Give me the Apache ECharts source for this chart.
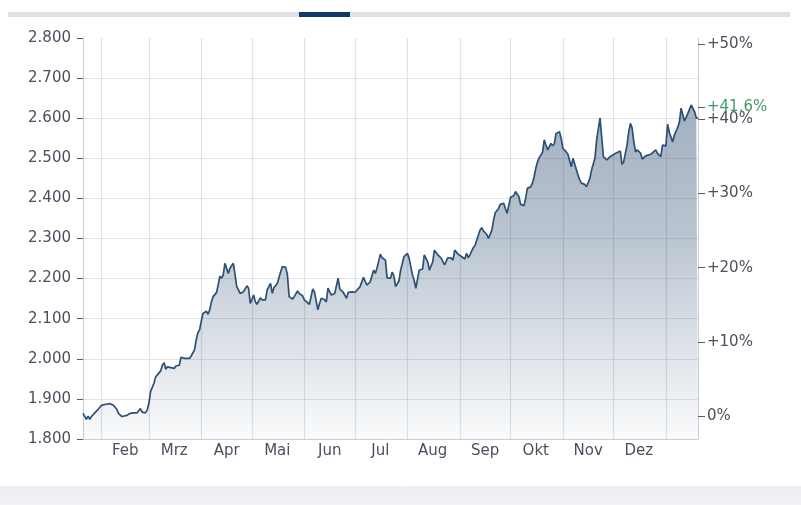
<!DOCTYPE html>
<html>
<head>
<meta charset="utf-8">
<script src="https://cdn.jsdelivr.net/npm/echarts@6.0.0/dist/echarts.min.js"></script>
<style>
  html, body { margin: 0; padding: 0; background: #fff; }
  #chart { width: 801px; height: 505px; }
</style>
</head>
<body>
<div id="chart"></div>
<script>
// Kurs, 1 Jahr
var dates = [
  "2013-01-21","2013-01-22","2013-01-23","2013-01-24","2013-01-25","2013-01-26","2013-01-28","2013-01-30",
  "2013-02-01","2013-02-03","2013-02-04","2013-02-06","2013-02-08","2013-02-10","2013-02-11","2013-02-13",
  "2013-02-14","2013-02-16","2013-02-18","2013-02-20","2013-02-22","2013-02-23","2013-02-24","2013-02-25",
  "2013-02-27","2013-02-28","2013-03-01","2013-03-02","2013-03-04","2013-03-05","2013-03-07","2013-03-08",
  "2013-03-09","2013-03-10","2013-03-11","2013-03-12","2013-03-14","2013-03-15","2013-03-16","2013-03-17",
  "2013-03-19","2013-03-20","2013-03-21","2013-03-22","2013-03-23","2013-03-25","2013-03-26","2013-03-28",
  "2013-03-29","2013-03-30","2013-03-31","2013-04-01","2013-04-02","2013-04-04","2013-04-05","2013-04-06",
  "2013-04-07","2013-04-08","2013-04-09","2013-04-10","2013-04-11","2013-04-12","2013-04-13","2013-04-14",
  "2013-04-15","2013-04-16","2013-04-17","2013-04-18","2013-04-20","2013-04-21","2013-04-22","2013-04-23",
  "2013-04-24","2013-04-26","2013-04-28","2013-04-29","2013-04-30","2013-05-02","2013-05-03","2013-05-04",
  "2013-05-06","2013-05-07","2013-05-09","2013-05-10","2013-05-12","2013-05-13","2013-05-14","2013-05-16",
  "2013-05-17","2013-05-18","2013-05-19","2013-05-21","2013-05-22","2013-05-23","2013-05-25","2013-05-26",
  "2013-05-28","2013-05-29","2013-05-31","2013-06-01","2013-06-02","2013-06-04","2013-06-05","2013-06-06",
  "2013-06-07","2013-06-09","2013-06-10","2013-06-11","2013-06-13","2013-06-14","2013-06-15","2013-06-17",
  "2013-06-18","2013-06-19","2013-06-21","2013-06-22","2013-06-23","2013-06-24","2013-06-26","2013-06-27",
  "2013-06-29","2013-07-01","2013-07-02","2013-07-04","2013-07-05","2013-07-06","2013-07-08","2013-07-09",
  "2013-07-10","2013-07-12","2013-07-13","2013-07-14","2013-07-16","2013-07-17","2013-07-19","2013-07-20",
  "2013-07-22","2013-07-23","2013-07-24","2013-07-25","2013-07-27","2013-07-28","2013-07-30","2013-08-01",
  "2013-08-02","2013-08-04","2013-08-05","2013-08-06","2013-08-08","2013-08-10","2013-08-11","2013-08-13",
  "2013-08-14","2013-08-16","2013-08-17","2013-08-19","2013-08-20","2013-08-21","2013-08-23","2013-08-24",
  "2013-08-25","2013-08-27","2013-08-28","2013-08-29","2013-08-31","2013-09-02","2013-09-03","2013-09-04",
  "2013-09-05","2013-09-06","2013-09-07","2013-09-09","2013-09-10","2013-09-11","2013-09-13","2013-09-14",
  "2013-09-15","2013-09-17","2013-09-18","2013-09-20","2013-09-21","2013-09-22","2013-09-24","2013-09-25",
  "2013-09-27","2013-09-28","2013-09-29","2013-10-01","2013-10-02","2013-10-03","2013-10-04","2013-10-06",
  "2013-10-07","2013-10-09","2013-10-10","2013-10-11","2013-10-13","2013-10-14","2013-10-15","2013-10-16",
  "2013-10-17","2013-10-18","2013-10-20","2013-10-21","2013-10-22","2013-10-23","2013-10-24","2013-10-25",
  "2013-10-26","2013-10-27","2013-10-28","2013-10-30","2013-10-31","2013-11-01","2013-11-02","2013-11-03",
  "2013-11-04","2013-11-06","2013-11-07","2013-11-08","2013-11-10","2013-11-11","2013-11-12","2013-11-14",
  "2013-11-15","2013-11-17","2013-11-18","2013-11-20","2013-11-21","2013-11-23","2013-11-24","2013-11-25",
  "2013-11-26","2013-11-27","2013-11-29","2013-11-30","2013-12-02","2013-12-03","2013-12-05","2013-12-06",
  "2013-12-07","2013-12-09","2013-12-10","2013-12-11","2013-12-12","2013-12-13","2013-12-14","2013-12-15",
  "2013-12-17","2013-12-18","2013-12-20","2013-12-21","2013-12-23","2013-12-24","2013-12-26","2013-12-27",
  "2013-12-29","2013-12-30","2014-01-01","2014-01-02","2014-01-03","2014-01-05","2014-01-06","2014-01-08",
  "2014-01-09","2014-01-10","2014-01-12","2014-01-13","2014-01-14","2014-01-16","2014-01-17","2014-01-18",
  "2014-01-19","2014-01-20"
];
var prices = [
  1864,1865,1849,1857,1849,1856,1865,1874,
  1884,1886,1884,1888,1884,1874,1864,1856,
  1852,1859,1864,1865,1865,1867,1876,1867,
  1865,1872,1889,1918,1939,1955,1965,1970,
  1984,1990,1974,1980,1978,1980,1976,1982,
  1984,2004,2007,2001,1999,2001,2007,2022,
  2047,2065,2072,2094,2113,2119,2111,2122,
  2142,2155,2159,2165,2184,2206,2201,2209,
  2238,2242,2213,2226,2238,2209,2180,2172,
  2163,2167,2182,2176,2138,2159,2142,2136,
  2152,2147,2147,2172,2188,2163,2177,2188,
  2184,2217,2230,2228,2209,2155,2149,2155,
  2169,2163,2157,2147,2151,2136,2155,2174,
  2167,2122,2138,2151,2147,2142,2176,2159,
  2163,2163,2201,2174,2172,2166,2151,2166,
  2167,2166,2163,2180,2177,2203,2184,2184,
  2192,2221,2213,2226,2261,2252,2246,2202,
  2201,2216,2207,2180,2194,2221,2255,2263,
  2251,2209,2196,2176,2221,2224,2259,2242,
  2221,2242,2271,2259,2255,2251,2234,2244,
  2252,2251,2246,2271,2261,2255,2252,2249,
  2263,2252,2259,2277,2282,2279,2321,2327,
  2319,2310,2300,2321,2346,2364,2375,2385,
  2388,2375,2363,2402,2404,2407,2417,2404,
  2385,2382,2400,2425,2429,2438,2454,2475,
  2491,2501,2515,2546,2533,2521,2529,2537,
  2531,2537,2562,2566,2550,2525,2523,2516,
  2510,2479,2500,2504,2458,2446,2438,2435,
  2429,2450,2471,2500,2546,2600,2553,2504,
  2508,2496,2504,2508,2512,2515,2518,2485,
  2491,2533,2566,2587,2576,2541,2516,2521,
  2513,2498,2506,2510,2510,2510,2521,2512,
  2504,2533,2531,2585,2565,2541,2558,2577,
  2591,2625,2593,2595,2612,2633,2629,2616,
  2600,2601
];

var basePrice = 1856;          // Kurs bei 0%
var changeNow = 41.6;          // aktuelle Veraenderung in %
var firstDay = "2013-01-21", lastDay = "2014-01-20";
var monthStarts = ["2013-02-01","2013-03-01","2013-04-01","2013-05-01","2013-06-01","2013-07-01",
  "2013-08-01","2013-09-01","2013-10-01","2013-11-01","2013-12-01","2014-01-01"];
var monthLabelDates = ["2013-02-15","2013-03-16","2013-04-16","2013-05-16","2013-06-16","2013-07-16",
  "2013-08-16","2013-09-16","2013-10-16","2013-11-16","2013-12-16"];
var monthNames = ["Jan","Feb","Mrz","Apr","Mai","Jun","Jul","Aug","Sep","Okt","Nov","Dez"];
var percentTicks = [0, 10, 20, 30, 40, changeNow, 50];

var priceMin = 1800, priceMax = 2800, priceStep = 100;

function ts(d) { return Date.parse(d); }

var seriesData = dates.map(function (d, i) { return [ts(d), prices[i]]; });

function fmtPrice(v) {
  var t = Math.floor(v / 1000);
  var r = String(Math.round(v % 1000));
  while (r.length < 3) r = "0" + r;
  return t + "." + r;
}

function fmtPct(v) {
  if (Math.abs(v - changeNow) < 0.01) {
    return "{g|+" + changeNow.toFixed(1).replace(".", ",") + "%}";
  }
  var s = Math.round(v) + "%";
  return v > 0 ? "+" + s : s;
}

var chart = echarts.init(document.getElementById("chart"));

var textColor = "#4a505e";
var font = "DejaVu Sans";

var option = {
  animation: false,
  backgroundColor: "#fff",
  grid: { left: 83, right: 103, top: 38, bottom: 66 },
  graphic: [
    { type: "rect", shape: { x: 8, y: 12, width: 782, height: 5 }, style: { fill: "#dee1e6" } },
    { type: "rect", shape: { x: 299, y: 12, width: 51, height: 5 }, style: { fill: "#0f3b66" } },
    { type: "rect", shape: { x: 0, y: 487, width: 801, height: 18 },
      style: { fill: new echarts.graphic.LinearGradient(0, 0, 0, 1, [
        { offset: 0, color: "#eceef1" }, { offset: 1, color: "#f1f2f5" }]) } },
    { type: "line", shape: { x1: 0, y1: 487, x2: 801, y2: 487 }, style: { stroke: "#e2e5e9", lineWidth: 1 } }
  ],
  xAxis: {
    type: "value",
    min: ts(firstDay),
    max: ts(lastDay),
    axisLine: { show: true, onZero: false, lineStyle: { color: "#c9cdd5", width: 1 } },
    axisTick: { show: false, customValues: monthStarts.map(ts) },
    splitLine: { show: true, lineStyle: { color: "#dfe2e8", width: 1.2 } },
    axisLabel: {
      customValues: monthLabelDates.map(ts),
      margin: 5,
      color: textColor,
      fontFamily: font,
      fontSize: 15,
      formatter: function (v) { return monthNames[new Date(v).getUTCMonth()]; }
    }
  },
  yAxis: [
    {
      type: "value",
      position: "left",
      min: priceMin,
      max: priceMax,
      interval: priceStep,
      axisLine: { show: true, lineStyle: { color: "#c9cdd5" } },
      axisTick: { show: true, length: 6, lineStyle: { color: "#555b66" } },
      splitLine: { show: true, showMaxLine: false, lineStyle: { color: "#e2e5ea" } },
      axisLabel: { margin: 12, color: textColor, fontFamily: font, fontSize: 15, formatter: fmtPrice }
    },
    {
      type: "value",
      position: "right",
      min: (priceMin / basePrice - 1) * 100,
      max: (priceMax / basePrice - 1) * 100,
      axisLine: { show: true, onZero: false, lineStyle: { color: "#c9cdd5" } },
      axisTick: { show: true, length: 7, customValues: percentTicks, lineStyle: { color: "#555b66" } },
      splitLine: { show: false },
      axisLabel: {
        customValues: percentTicks,
        margin: 9,
        color: textColor,
        fontFamily: font,
        fontSize: 15,
        formatter: fmtPct,
        rich: { g: { color: "#3f9c68", fontFamily: font, fontSize: 15 } }
      }
    }
  ],
  series: [
    {
      type: "line",
      data: seriesData,
      yAxisIndex: 0,
      symbol: "none",
      lineStyle: { color: "#2d5075", width: 1.7 },
      areaStyle: {
        color: new echarts.graphic.LinearGradient(0, 0, 0, 1, [
          { offset: 0, color: "rgba(40,72,110,0.62)" },
          { offset: 0.4, color: "rgba(40,72,110,0.45)" },
          { offset: 1, color: "rgba(40,72,110,0.03)" }
        ])
      }
    }
  ]
};

chart.setOption(option);
</script>
</body>
</html>
